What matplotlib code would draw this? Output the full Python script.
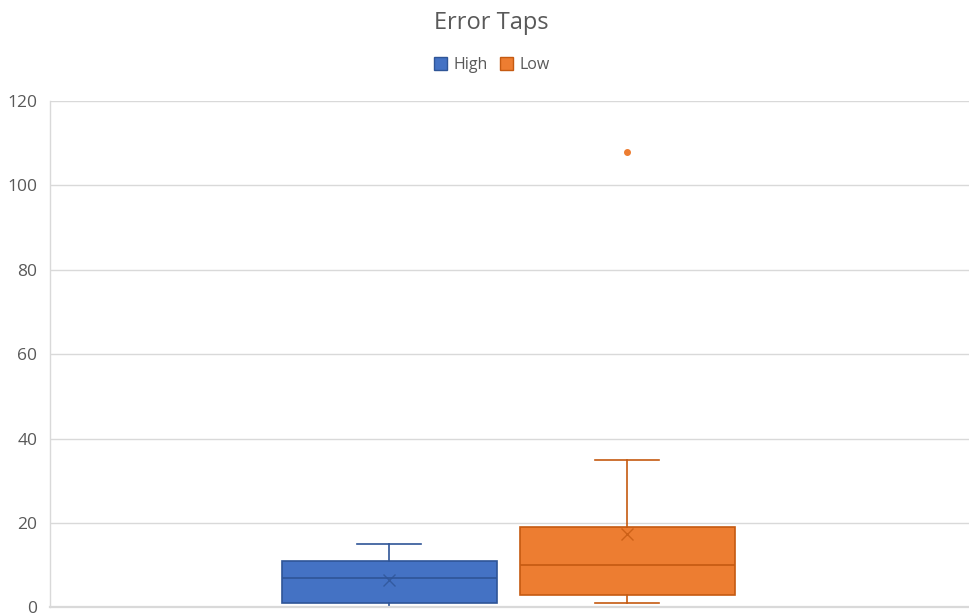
import matplotlib
matplotlib.use("Agg")
import matplotlib.pyplot as plt
from matplotlib.patches import Patch

plt.rcParams['font.family'] = ['Open Sans', 'DejaVu Sans']

series = ["High", "Low"]
q1 = [1, 3]
median = [7, 10]
q3 = [11, 19]
whisker_low = [0, 1]
whisker_high = [15, 35]
mean = [6.5, 17.3]
outliers = [[], [108]]
y_ticks = [0, 20, 40, 60, 80, 100, 120]

fills = ["#4472C4", "#ED7D31"]
edges = ["#2F5597", "#C55A11"]
text_gray = "#595959"
grid_gray = "#D9D9D9"

fig = plt.figure(figsize=(9.69, 6.16), dpi=100)
ax = fig.add_axes([50 / 969, 8.7 / 616, 919 / 969, 506.3 / 616])

positions = [0.369, 0.628]
box_w = 0.234

for i, name in enumerate(series):
    stats = [dict(med=median[i], q1=q1[i], q3=q3[i], whislo=whisker_low[i],
                  whishi=whisker_high[i], mean=mean[i], fliers=outliers[i], label=name)]
    ax.bxp(stats, positions=[positions[i]], widths=box_w, patch_artist=True,
           showmeans=True, meanline=False, showfliers=True,
           boxprops=dict(facecolor=fills[i], edgecolor=edges[i], linewidth=1.2),
           medianprops=dict(color=edges[i], linewidth=1.2),
           whiskerprops=dict(color=edges[i], linewidth=1.2),
           capprops=dict(color=edges[i], linewidth=1.2),
           capwidths=0.069,
           meanprops=dict(marker='x', markeredgecolor=edges[i], markersize=8,
                          markeredgewidth=1.0, alpha=0.8),
           flierprops=dict(marker='o', markerfacecolor=fills[i], markeredgecolor=fills[i],
                           markersize=4))

ax.set_xlim(0, 1)
ax.set_ylim(0, 120)
ax.set_yticks(y_ticks)
ax.set_xticks([])
ax.yaxis.grid(True, color=grid_gray, linewidth=1.0)
ax.set_axisbelow(True)
for s in ["top", "right"]:
    ax.spines[s].set_visible(False)
for s in ["bottom", "left"]:
    ax.spines[s].set_color(grid_gray)
    ax.spines[s].set_linewidth(1.0)
ax.spines["bottom"].set_linewidth(1.6)
ax.spines["bottom"].set_zorder(5)
ax.tick_params(axis='y', length=0, pad=9, labelsize=12.5, labelcolor=text_gray)

fig.text(491 / 969, 1 - 23 / 616, "Error Taps", ha='center', va='center',
         fontsize=17, color=text_gray)

handles = [Patch(facecolor=fills[i], edgecolor=edges[i], label=series[i]) for i in range(2)]
fig.legend(handles=handles, loc='center', bbox_to_anchor=(492 / 969, 1 - 65 / 616),
           ncol=2, frameon=False, fontsize=11.5, labelcolor=text_gray,
           handlelength=0.8, handleheight=0.8, handletextpad=0.4, columnspacing=0.8)

fig.savefig("out.png", dpi=100, facecolor="white")
